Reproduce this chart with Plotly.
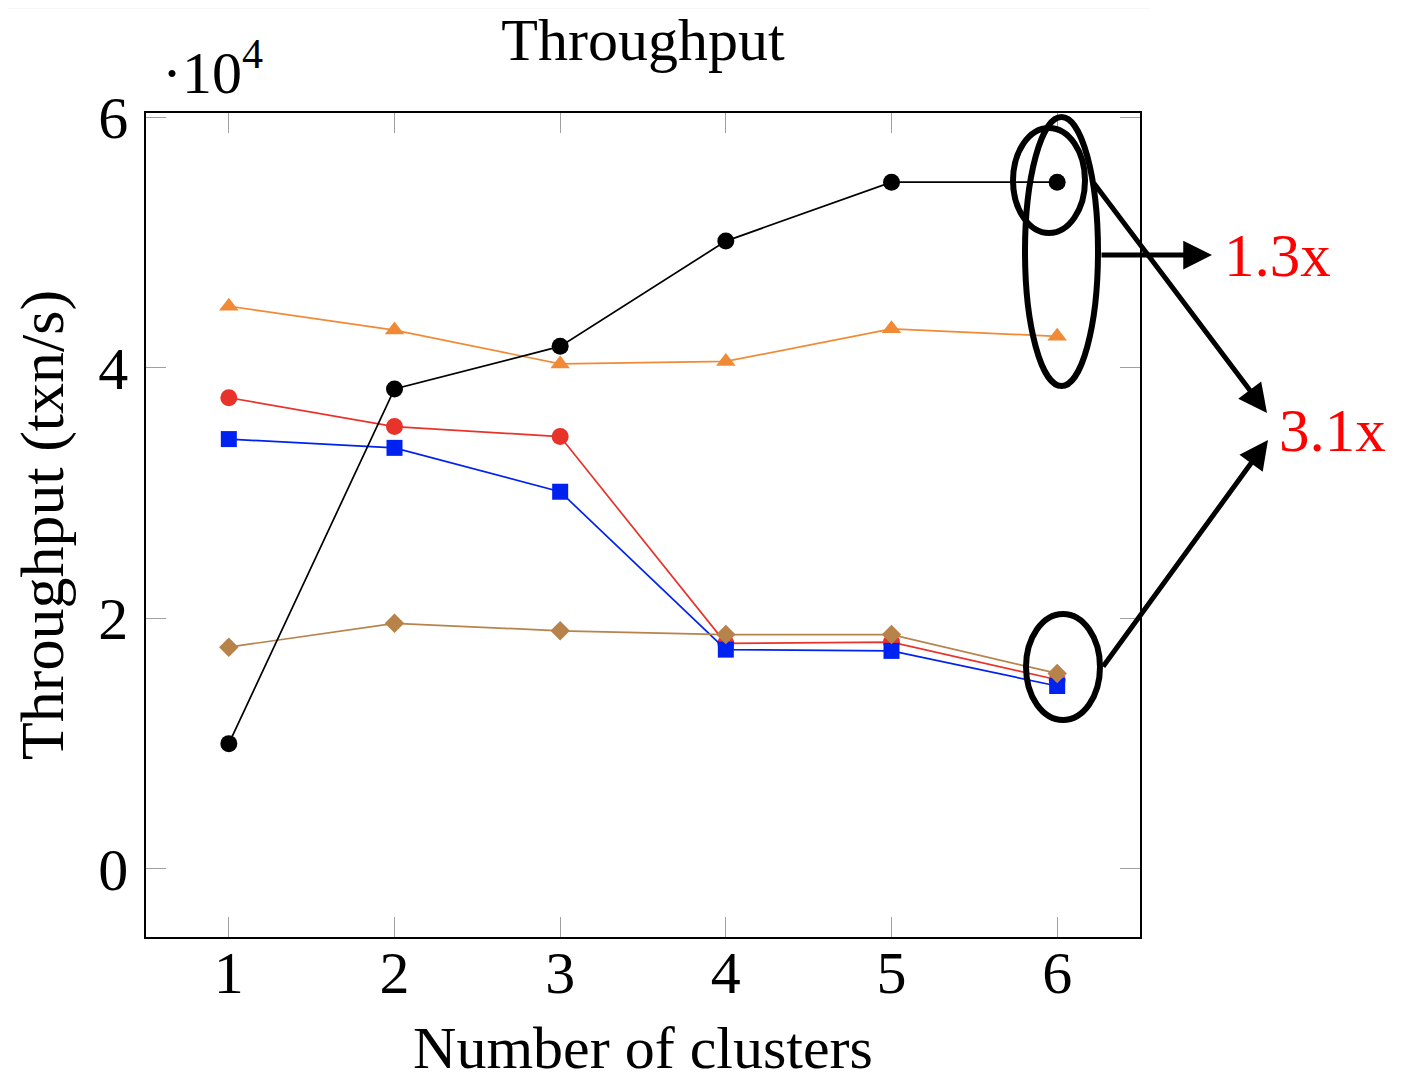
import plotly.graph_objects as go

clusters = [1, 2, 3, 4, 5, 6]
black_vals = [1.00, 3.83, 4.17, 5.01, 5.48, 5.48]
orange_vals = [4.49, 4.30, 4.03, 4.05, 4.31, 4.25]
red_vals = [3.76, 3.53, 3.45, 1.80, 1.81, 1.51]
blue_vals = [3.43, 3.36, 3.01, 1.75, 1.74, 1.46]
brown_vals = [1.77, 1.96, 1.90, 1.87, 1.87, 1.56]
y_ticks = [0, 2, 4, 6]

PAGE_W, PAGE_H = 1401, 1081
OFF = 8  # body margin of the html page
W, H = PAGE_W - OFF, PAGE_H - OFF
L, R, T, B = 146, 1140, 113, 937  # plot area in page pixels
SERIF = "Liberation Serif"


def px(x):
    return (x - L) / (R - L)


def py(y):
    return (B - y) / (B - T)


fig = go.Figure()
series = [
    (black_vals, "#000000", "circle", 17),
    (orange_vals, "#F08A36", "triangle-up", 17),
    (red_vals, "#E8332A", "circle", 17),
    (blue_vals, "#0022F0", "square", 16),
    (brown_vals, "#B7834B", "diamond", 15),
]
order = [1, 2, 3, 4, 0]
for i in order:
    vals, col, sym, sz = series[i]
    fig.add_trace(go.Scatter(
        x=clusters, y=vals, mode="lines+markers",
        line=dict(color=col, width=1.7),
        marker=dict(color=col, symbol=sym, size=sz, line=dict(width=0)),
        showlegend=False, cliponaxis=False,
    ))

axis_common = dict(
    showgrid=False, zeroline=False, showline=True, linecolor="black", linewidth=1.5,
    mirror="allticks", ticks="inside", ticklen=20, tickcolor="#a0a0a0", tickwidth=1.2,
    tickfont=dict(family=SERIF, size=60, color="black"), automargin=False,
)
fig.update_xaxes(range=[0.5, 6.5], tickvals=clusters, ticklabelstandoff=-18,
                 title=dict(text="Number of clusters", font=dict(family=SERIF, size=60, color="black"), standoff=22),
                 **axis_common)
fig.update_yaxes(range=[-0.543, 6.032], tickvals=y_ticks, ticklabelstandoff=4,
                 title=dict(text="Throughput (txn/s)", font=dict(family=SERIF, size=62, color="black"), standoff=16),
                 **axis_common)

shapes = []
# faint page edge
shapes.append(dict(type="line", xref="paper", yref="paper", x0=px(0), x1=px(1150), y0=py(8), y1=py(8),
                   line=dict(color="#eeeeee", width=1)))
for (x0, x1, y0, y1) in [(1013, 1085, 128, 233), (1025, 1098, 117, 386), (1026, 1100, 614, 720)]:
    shapes.append(dict(type="circle", xref="paper", yref="paper",
                       x0=px(x0), x1=px(x1), y0=py(y1), y1=py(y0),
                       line=dict(color="black", width=6)))
fig.update_layout(shapes=shapes)

annotations = []
# arrows: (tail_x, tail_y, head_x, head_y)
for (tx, ty, hx, hy) in [(1100, 255, 1212, 255), (1093, 182, 1267, 413), (1102, 668, 1268, 440)]:
    annotations.append(dict(
        x=px(hx), y=py(hy), xref="paper", yref="paper",
        ax=tx - hx, ay=ty - hy, axref="pixel", ayref="pixel",
        showarrow=True, arrowhead=2, arrowsize=1.15, arrowwidth=5, arrowcolor="black", text="",
    ))
annotations.append(dict(x=px(1222), y=py(256), xref="paper", yref="paper", text="1.3x",
                        showarrow=False, xanchor="left", yanchor="middle",
                        font=dict(family=SERIF, size=61, color="#FF0000")))
annotations.append(dict(x=px(1277), y=py(430), xref="paper", yref="paper", text="3.1x",
                        showarrow=False, xanchor="left", yanchor="middle",
                        font=dict(family=SERIF, size=61, color="#FF0000")))
annotations.append(dict(x=px(160), y=py(68), xref="paper", yref="paper", text="·10<sup>4</sup>",
                        showarrow=False, xanchor="left", yanchor="middle",
                        font=dict(family=SERIF, size=60, color="black")))
fig.update_layout(annotations=annotations)

fig.update_layout(
    width=W, height=H,
    margin=dict(l=L - OFF, r=PAGE_W - R, t=T - OFF, b=PAGE_H - B, pad=0),
    paper_bgcolor="white", plot_bgcolor="white",
    title=dict(text="Throughput", xref="paper", x=px(643), xanchor="center",
               yref="container", y=1 - (39 - OFF) / H, yanchor="middle",
               font=dict(family=SERIF, size=60, color="black")),
)

fig.write_html("out.html")
